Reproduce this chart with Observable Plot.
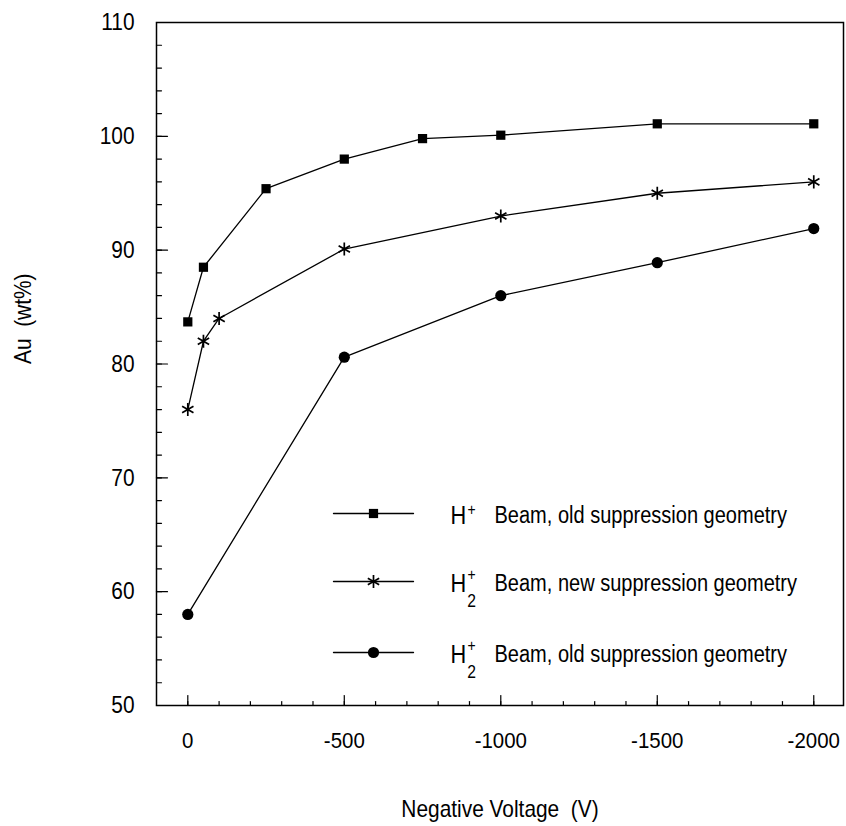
<!DOCTYPE html>
<html><head><meta charset="utf-8">
<script src="https://cdn.jsdelivr.net/npm/d3@7"></script>
<script src="https://cdn.jsdelivr.net/npm/@observablehq/plot@0.6"></script>
<style>
html,body{margin:0;padding:0;background:#fff;}
#chart svg{display:block;}
</style></head><body><div id="chart"></div>
<script>
// ---- data ----
const voltageHOld = [0, -50, -250, -500, -750, -1000, -1500, -2000];
const auHOld      = [83.7, 88.5, 95.4, 98.0, 99.8, 100.1, 101.1, 101.1];
const voltageH2New = [0, -50, -100, -500, -1000, -1500, -2000];
const auH2New      = [76.0, 82.0, 84.0, 90.1, 93.0, 95.0, 96.0];
const voltageH2Old = [0, -500, -1000, -1500, -2000];
const auH2Old      = [58.0, 80.6, 86.0, 88.9, 91.9];

const xTicks = [0, -500, -1000, -1500, -2000];
const xTickLabels = ["0", "-500", "-1000", "-1500", "-2000"];
const yTicks = [50, 60, 70, 80, 90, 100, 110];
const yTickLabels = ["50", "60", "70", "80", "90", "100", "110"];
const xMinorTicks = d3.range(0, -2001, -100);
const yMinorTicks = d3.range(52, 110, 2);

const seriesKeys = ["hOld", "h2New", "h2Old"];
const seriesSymbols = ["square", "asterisk", "circle"];
const legendIon = ["H", "H", "H"];
const legendSup = ["+", "+", "+"];
const legendSub = ["", "2", "2"];
const legendText = ["Beam, old suppression geometry", "Beam, new suppression geometry", "Beam, old suppression geometry"];
const xTitle = "Negative Voltage  (V)";
const yTitle = "Au  (wt%)";

// ---- build table ----
const table = [
  ...voltageHOld.map((v, i) => ({series: "hOld", v, au: auHOld[i]})),
  ...voltageH2New.map((v, i) => ({series: "h2New", v, au: auH2New[i]})),
  ...voltageH2Old.map((v, i) => ({series: "h2Old", v, au: auH2Old[i]}))
];

const FONT = "'Liberation Sans',Arial,Helvetica,sans-serif";
const NARROW = 0.87;   // horizontal condensing of text (reference uses a condensed Helvetica)
const NARROW_X = 0.93; // x tick labels are set a bit smaller, so condense less
const tickShape = {draw(ctx, l) { ctx.moveTo(0, 0); ctx.lineTo(0, -l); }};
const symSize = {square: 5.2, asterisk: 6.2, circle: 5.6};

function symbolOpts(s, base) {
  const o = {...base, symbol: s, r: symSize[s]};
  if (s === "asterisk") { o.stroke = "black"; o.strokeWidth = 1.7; o.fill = "none"; }
  else { o.fill = "black"; o.stroke = "none"; }
  return o;
}

const marks = [
  Plot.frame({stroke: "black", strokeWidth: 1.5}),
  // inward ticks
  Plot.vector(yMinorTicks, {y: d => d, frameAnchor: "left", length: 5, rotate: 90, anchor: "start", shape: tickShape, stroke: "black", strokeWidth: 1.2}),
  Plot.vector(yTicks, {y: d => d, frameAnchor: "left", length: 11, rotate: 90, anchor: "start", shape: tickShape, stroke: "black", strokeWidth: 1.2}),
  Plot.vector(xMinorTicks, {x: d => d, frameAnchor: "bottom", length: 4, rotate: 0, anchor: "start", shape: tickShape, stroke: "black", strokeWidth: 1.2}),
  Plot.vector(xTicks, {x: d => d, frameAnchor: "bottom", length: 10, rotate: 0, anchor: "start", shape: tickShape, stroke: "black", strokeWidth: 1.2}),
  Plot.axisX({ticks: xTicks, tickSize: 0, tickPadding: 27, fontSize: 22, tickFormat: d => xTickLabels[xTicks.indexOf(d)], label: null}),
  Plot.axisY({ticks: yTicks, tickSize: 0, tickPadding: 22, tickFormat: d => yTickLabels[yTicks.indexOf(d)], label: null}),
  Plot.text([xTitle], {frameAnchor: "bottom", dy: 104, lineAnchor: "middle", fill: "black"}),
  Plot.text([yTitle], {frameAnchor: "left", dx: -133, rotate: -90, lineAnchor: "middle", fill: "black"}),
  // data
  Plot.line(table, {x: "v", y: "au", z: "series", stroke: "black", strokeWidth: 1.3})
];
seriesKeys.forEach((k, i) => {
  marks.push(Plot.dot(table.filter(d => d.series === k), symbolOpts(seriesSymbols[i], {x: "v", y: "au"})));
});

// legend (pixel offsets from the frame's top-left corner)
const legRowDy = [491, 559, 630];
const legSupOff = [-6, -9, -9];
const legSymDx = 217, legIonDx = 294, legSupDx = 315, legTextDx = 338;
seriesKeys.forEach((k, i) => {
  const dy = legRowDy[i];
  marks.push(Plot.vector([k], {frameAnchor: "top-left", dx: legSymDx, dy, length: 80, rotate: 90, anchor: "middle", shape: tickShape, stroke: "black", strokeWidth: 1.3}));
  marks.push(Plot.dot([k], symbolOpts(seriesSymbols[i], {frameAnchor: "top-left", dx: legSymDx, dy})));
  marks.push(Plot.text([legendIon[i]], {frameAnchor: "top-left", dx: legIonDx, dy: dy + 2, textAnchor: "start", lineAnchor: "middle", fontSize: 25, fill: "black"}));
  marks.push(Plot.text([legendSup[i]], {frameAnchor: "top-left", dx: legSupDx, dy: dy + 2 + legSupOff[i], textAnchor: "middle", lineAnchor: "middle", fontSize: 16, fill: "black"}));
  if (legendSub[i]) marks.push(Plot.text([legendSub[i]], {frameAnchor: "top-left", dx: legSupDx, dy: dy + 20, textAnchor: "middle", lineAnchor: "middle", fontSize: 18, fill: "black"}));
  marks.push(Plot.text([legendText[i]], {frameAnchor: "top-left", dx: legTextDx, dy: dy + 2, textAnchor: "start", lineAnchor: "middle", fontSize: 23, fill: "black"}));
});

const chart = Plot.plot({
  width: 846,
  height: 826,
  marginTop: 22,
  marginRight: 3,
  marginBottom: 121,
  marginLeft: 156,
  style: {fontFamily: FONT, fontSize: "24px", color: "black", background: "white", overflow: "visible"},
  x: {type: "linear", domain: [100, -2095]},
  y: {type: "linear", domain: [50, 110]},
  marks
});
document.getElementById("chart").appendChild(chart);

// condense texts horizontally, keeping them real text
const xLabelTexts = new Set(chart.querySelectorAll('g[aria-label="x-axis tick label"] text'));
chart.querySelectorAll("text").forEach(t => {
  const w = t.getComputedTextLength();
  if (w > 0) {
    const f = xLabelTexts.has(t) ? NARROW_X : NARROW;
    t.setAttribute("textLength", (w * f).toFixed(2));
    t.setAttribute("lengthAdjust", "spacingAndGlyphs");
  }
});
</script>
</body></html>
